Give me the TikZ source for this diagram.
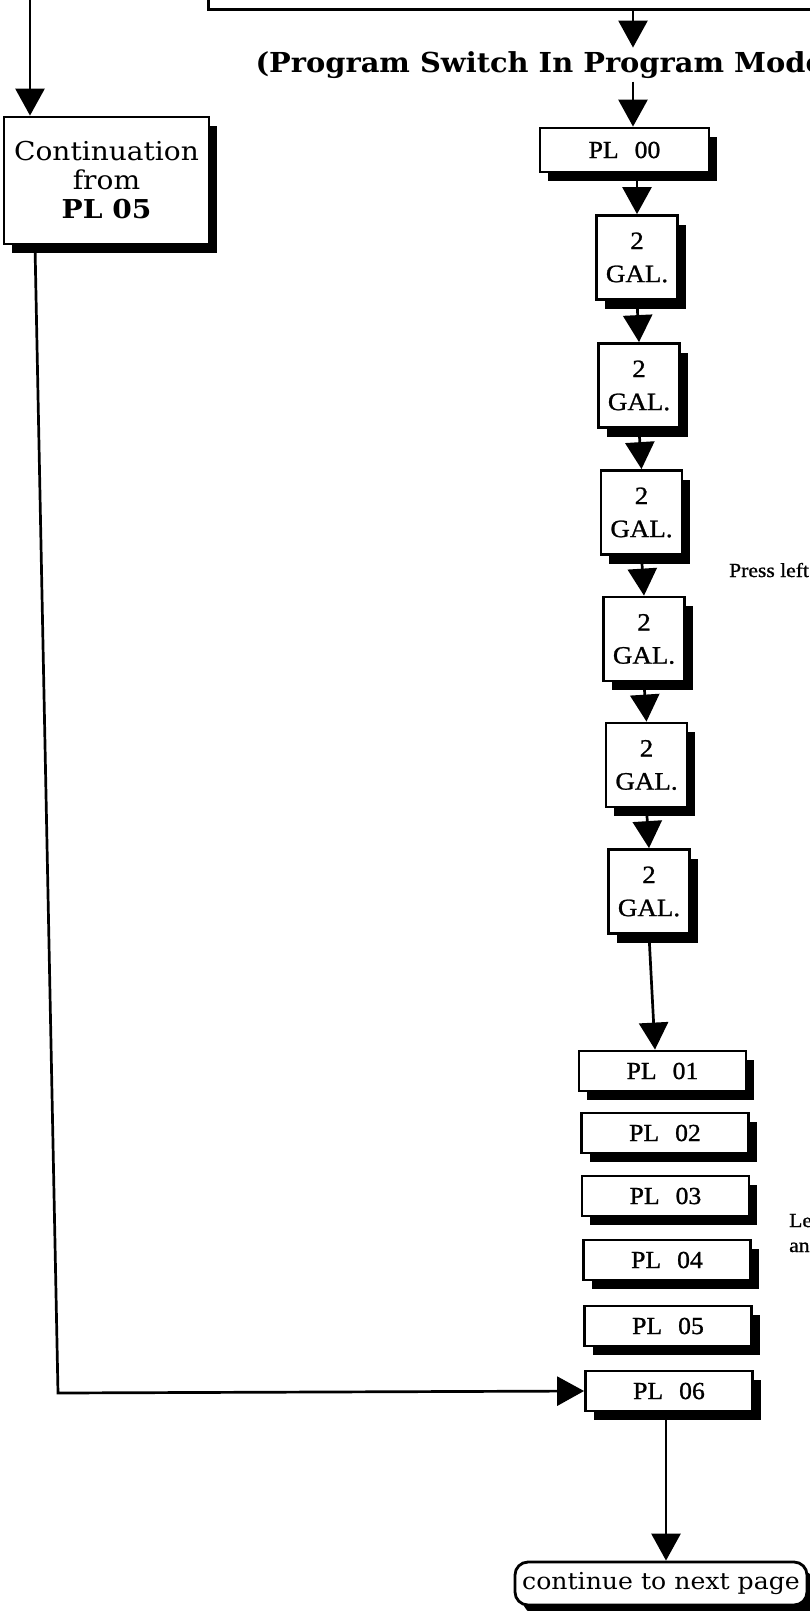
\documentclass[tikz,border=0pt]{standalone}
\usepackage{fontspec}
\usetikzlibrary{arrows.meta,shadows,calc}
\newfontfamily\bookfont[FakeStretch=1.08]{DejaVu Serif}
\newfontfamily\titlefont[FakeStretch=1.05]{DejaVu Serif}
\newfontfamily\galfont[FakeStretch=1.08,FakeBold=1]{Liberation Serif}
\newfontfamily\plfont[FakeStretch=1.05,FakeBold=1]{Liberation Serif}
\begin{document}
\begin{tikzpicture}[x=1pt,y=-1pt,
  ln/.style={line width=2.7pt},
  arr/.style={ln,-{Triangle[length=27pt,width=29pt]}},
  boxshadow/.style={drop shadow={shadow xshift=8pt,shadow yshift=-9pt,opacity=1,fill=black}},
  box/.style={draw,line width=2.8pt,fill=white,boxshadow,inner sep=0pt},
  galbox/.style={box,minimum width=81pt,minimum height=84pt,align=center,font=\galfont\fontsize{25}{33}\selectfont},
  plbox/.style={box,minimum width=167pt,minimum height=40pt,font=\plfont\fontsize{24.5}{28}\selectfont},
  txt/.style={anchor=base west,inner sep=0pt,font=\galfont\fontsize{20}{25}\selectfont},
]
\useasboundingbox (0,0) rectangle (810,1611);
\fill[white] (0,0) rectangle (810,1611);
% top box (cut off)
\node[draw,line width=2.8pt,minimum width=640pt,minimum height=60pt,anchor=south west,inner sep=0pt] (topbox) at (207,11) {};
% title
\node[anchor=base west,font=\titlefont\bfseries\fontsize{27.5}{30}\selectfont] (title) at (252,72) {(Program Switch In Program Mode};
% left continuation box
\node[box,minimum width=205pt,minimum height=127pt,align=center,font=\bookfont\fontsize{26}{29}\selectfont] (cont) at (106.5,180.5) {Continuation\\from\\\textbf{PL 05}};
% PL 00
\node[plbox,minimum width=169pt,minimum height=44pt] (pl00) at (624.5,150) {PL\hspace{16pt}00};
% GAL boxes
\node[galbox] (g1) at (637,257.5) {2\\GAL.};
\node[galbox] (g2) at (639,385.5) {2\\GAL.};
\node[galbox] (g3) at (641.5,512.5) {2\\GAL.};
\node[galbox] (g4) at (644,639) {2\\GAL.};
\node[galbox] (g5) at (646.5,765) {2\\GAL.};
\node[galbox] (g6) at (649,891.5) {2\\GAL.};
% PL boxes
\node[plbox] (pl01) at (662.5,1071) {PL\hspace{16pt}01};
\node[plbox] (pl02) at (665,1133) {PL\hspace{16pt}02};
\node[plbox] (pl03) at (665.5,1196) {PL\hspace{16pt}03};
\node[plbox] (pl04) at (667,1260) {PL\hspace{16pt}04};
\node[plbox] (pl05) at (668,1326) {PL\hspace{16pt}05};
\node[plbox] (pl06) at (669,1391) {PL\hspace{16pt}06};
% continue box
\node[box,rounded corners=13pt,minimum width=292pt,minimum height=43pt,font=\bookfont\fontsize{23.3}{28}\selectfont] (next) at (661,1583.5) {continue to next page};
% side texts
\node[txt] (press) at (729,577) {Press left};
\node[txt] (le) at (789,1227) {Le};
\node[txt] (an) at (789,1252) {an};
% connectors
\coordinate (a1) at (633,0);
\coordinate (ltop) at (30,-5);
\coordinate (lb) at (35,0);
\coordinate (lcorner) at (58,1393);
\coordinate (bx) at (666,0);
\draw[arr] (topbox.south -| a1) -- (title.north -| a1);
\draw[arr] (title.south -| a1) -- (pl00.north -| a1);
\draw[arr] (pl00.south -| g1) -- (g1.north);
\draw[arr] (g1.south) -- (g2.north);
\draw[arr] (g2.south) -- (g3.north);
\draw[arr] (g3.south) -- (g4.north);
\draw[arr] (g4.south) -- (g5.north);
\draw[arr] (g5.south) -- (g6.north);
\draw[arr] (g6.south) -- ($(pl01.north)+(-7.5,0)$);
\draw[arr] (ltop) -- (cont.north -| ltop);
\draw[arr] (cont.south -| lb) -- (lcorner) -- (pl06.west);
\draw[arr] (pl06.south -| bx) -- (next.north -| bx);
\end{tikzpicture}
\end{document}
